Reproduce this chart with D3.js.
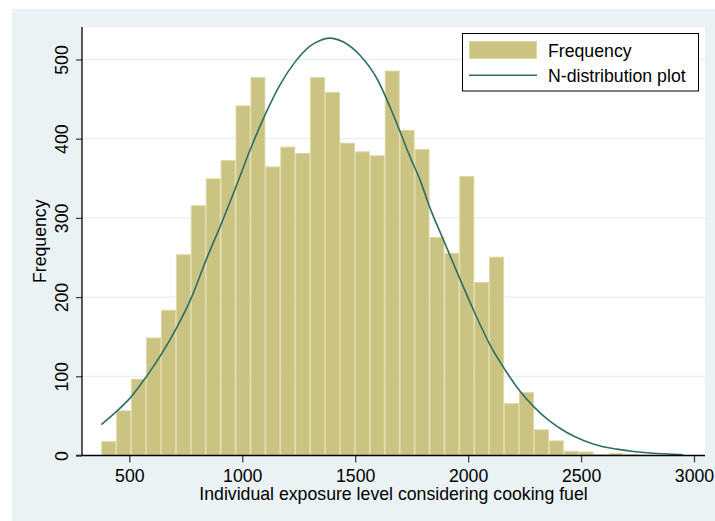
<!DOCTYPE html>
<html>
<head>
<meta charset="utf-8">
<script src="https://cdn.jsdelivr.net/npm/d3@7"></script>
<style>
body { margin: 0; background: #ffffff; }
svg text { font-family: "Liberation Sans", Arial, sans-serif; }
</style>
</head>
<body>
<div id="chart"></div>
<script>
// histogram bins (39 bins of equal width, lower edge of the first one)
var binMin = 376;
var binWidth = 66.05;
var counts = [18, 57, 97, 149, 184, 254, 316, 350, 373, 442,
	478, 365, 390, 382, 478, 459, 395, 384, 379, 486,
	411, 387, 276, 256, 353, 219, 251, 66, 80, 33,
	19, 6, 5, 2, 3, 2, 0, 0, 1];
// normal curve, points
var curveX = [376, 441, 508, 574, 640, 707, 776, 840, 902, 972, 1035, 1101, 1167, 1234, 1300,
	1345, 1385, 1448, 1522, 1596, 1669, 1743, 1787, 1832, 1891, 1965, 2031, 2098, 2164, 2230,
	2289, 2363, 2437, 2511, 2585, 2658, 2732, 2806, 2952];
var curveY = [39, 55, 74, 99, 127, 160, 200, 247, 289, 339, 386, 430, 468, 497, 517,
	524, 527, 522, 505, 476, 430, 377, 348, 312, 272, 222, 179, 139, 108, 81,
	62, 43, 29, 19, 12, 8, 5, 3.2, 1];
var xTicks = [500, 1000, 1500, 2000, 2500, 3000];
var yTicks = [0, 100, 200, 300, 400, 500];
var xTitle = 'Individual exposure level considering cooking fuel';
var yTitle = 'Frequency';
var legendLabels = ['Frequency', 'N-distribution plot'];

// chart parameters
var svpWidth = 715;
var svpHeight = 521;
var plot = {left: 82, right: 705, top: 27, bottom: 455.5};
var barFill = '#cbc382';
var barEdge = '#dcd7a2';
var lineColor = '#2f6e66';
var fontSize = '17.7px';

var svg = d3.select('#chart')
	.append('svg')
	.attr('width', svpWidth)
	.attr('height', svpHeight);

// graph region + plot region
svg.append('rect')
	.attr('x', 12).attr('y', 9)
	.attr('width', svpWidth-12).attr('height', svpHeight-9)
	.style('fill', '#eaf2f3');
svg.append('rect')
	.attr('x', plot.left).attr('y', plot.top)
	.attr('width', plot.right-plot.left).attr('height', plot.bottom-plot.top)
	.style('fill', 'white');

var x = d3.scaleLinear()
	.domain([500, 3000])
	.range([129.3, 694]);
var y = d3.scaleLinear()
	.domain([0, 500])
	.range([plot.bottom, 59.5]);

// gridlines
svg.append('g')
	.selectAll('line')
	.data(yTicks.filter(d=>d>0))
	.enter()
	.append('line')
	.attr('x1', plot.left)
	.attr('x2', plot.right)
	.attr('y1', d=>y(d))
	.attr('y2', d=>y(d))
	.style('stroke', '#e6eff0')
	.style('stroke-width', 1.3);

// bars
svg.append('g')
	.selectAll('rect')
	.data(counts)
	.enter()
	.filter(d=>d>0)
	.append('rect')
	.attr('x', (d, i)=>x(binMin+i*binWidth)+0.5)
	.attr('y', d=>y(d)+0.5)
	.attr('width', (d, i)=>x(binMin+(i+1)*binWidth)-x(binMin+i*binWidth)-1)
	.attr('height', d=>Math.max(0, y(0)-y(d)-0.5))
	.style('fill', barFill)
	.style('stroke', barEdge)
	.style('stroke-width', 1);

// normal curve
var pts = curveX.map((v, i)=>[v, curveY[i]]);
svg.append('path')
	.datum(pts)
	.attr('d', d3.line()
		.x(d=>x(d[0]))
		.y(d=>y(d[1]))
		.curve(d3.curveMonotoneX))
	.style('fill', 'none')
	.style('stroke', lineColor)
	.style('stroke-width', 1.6);

// x-axis
var gx = svg.append('g')
	.attr('transform', 'translate(0,'+plot.bottom+')')
	.call(d3.axisBottom(x).tickValues(xTicks).tickSize(7).tickFormat(d3.format('d')));
gx.select('.domain').remove();
gx.selectAll('.tick line').style('stroke', '#444').style('stroke-width', 1.3);
gx.selectAll('.tick text')
	.attr('y', 26.2)
	.attr('dy', 0)
	.style('font-size', fontSize)
	.style('font-family', '"Liberation Sans", Arial, sans-serif')
	.style('fill', 'black');
svg.append('line')
	.attr('x1', 76).attr('x2', plot.right)
	.attr('y1', plot.bottom).attr('y2', plot.bottom)
	.style('stroke', 'black')
	.style('stroke-width', 1.3);

// y-axis
var gy = svg.append('g')
	.attr('transform', 'translate('+plot.left+',0)')
	.call(d3.axisLeft(y).tickValues(yTicks).tickSize(6));
gy.select('.domain').remove();
gy.selectAll('.tick line').style('stroke', '#444').style('stroke-width', 1.3);
gy.selectAll('.tick text')
	.attr('transform', 'rotate(-90)')
	.attr('x', 0)
	.attr('y', -13.7)
	.attr('dy', 0)
	.attr('text-anchor', 'middle')
	.style('font-size', fontSize)
	.style('font-family', '"Liberation Sans", Arial, sans-serif')
	.style('fill', 'black');
svg.append('line')
	.attr('x1', plot.left).attr('x2', plot.left)
	.attr('y1', plot.top).attr('y2', plot.bottom)
	.style('stroke', 'black')
	.style('stroke-width', 1.3);

// axis titles
svg.append('text')
	.attr('text-anchor', 'middle')
	.attr('x', (plot.left+plot.right)/2)
	.attr('y', 500)
	.style('font-size', fontSize)
	.style('fill', 'black')
	.text(xTitle);
svg.append('text')
	.attr('text-anchor', 'middle')
	.attr('transform', 'translate(46,'+((plot.top+plot.bottom)/2)+') rotate(-90)')
	.style('font-size', fontSize)
	.style('fill', 'black')
	.text(yTitle);

// legend
var lg = svg.append('g');
lg.append('rect')
	.attr('x', 462.5).attr('y', 33.5)
	.attr('width', 236).attr('height', 57.5)
	.style('fill', 'white')
	.style('stroke', 'black')
	.style('stroke-width', 1);
lg.append('rect')
	.attr('x', 469.5).attr('y', 41.5)
	.attr('width', 67).attr('height', 17)
	.style('fill', barFill)
	.style('stroke', barEdge)
	.style('stroke-width', 1);
lg.append('line')
	.attr('x1', 469).attr('x2', 537)
	.attr('y1', 75.3).attr('y2', 75.3)
	.style('stroke', lineColor)
	.style('stroke-width', 1.6);
lg.selectAll('text.lab')
	.data(legendLabels)
	.enter()
	.append('text')
	.attr('class', 'lab')
	.attr('x', 548)
	.attr('y', (d, i)=>i===0 ? 57 : 81.5)
	.style('font-size', fontSize)
	.style('fill', 'black')
	.text(d=>d);
</script>
</body>
</html>
